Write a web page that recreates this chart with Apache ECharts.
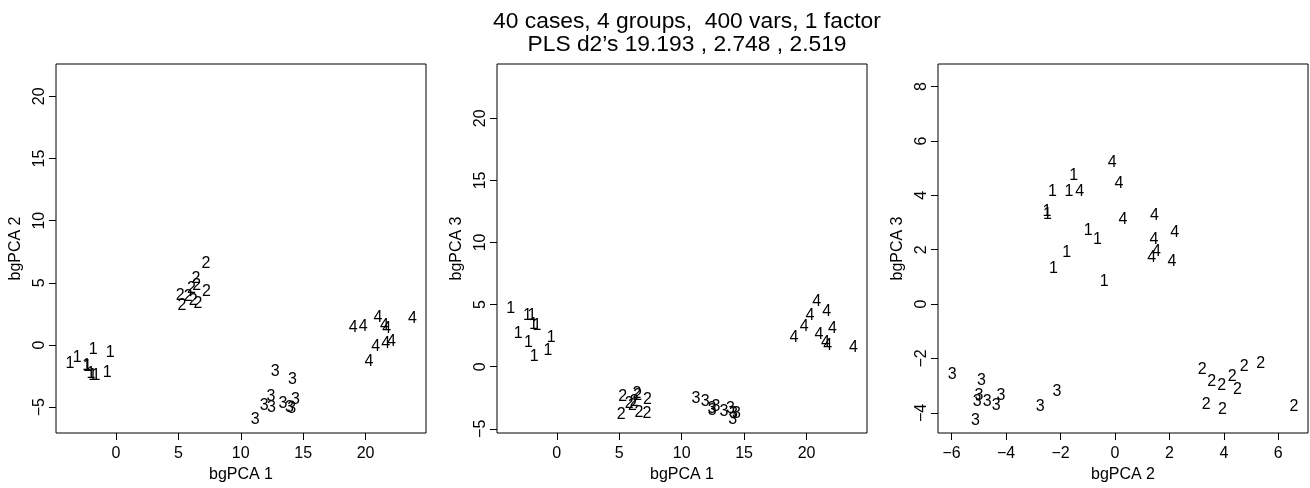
<!DOCTYPE html>
<html><head><meta charset="utf-8">
<script src="https://cdn.jsdelivr.net/npm/echarts@6/dist/echarts.min.js"></script>
<style>html,body{margin:0;padding:0;background:#fff}#c{width:1310px;height:488px}</style>
</head><body><div id="c"></div>
<script>
const titleLines = ["40 cases, 4 groups,  400 vars, 1 factor", "PLS d2\u2019s 19.193 , 2.748 , 2.519"];
const groups = [1,1,1,1,1,1,1,1,1,1, 2,2,2,2,2,2,2,2,2,2, 3,3,3,3,3,3,3,3,3,3, 4,4,4,4,4,4,4,4,4,4];
const pc1 = [-3.69,-2.35,-2.00,-1.87,-1.60,-3.10,-2.28,-1.82,-0.45,-0.70,
             7.22,7.25,6.42,6.47,5.15,5.28,6.58,6.05,5.80,6.20,
             11.15,11.88,12.75,14.15,12.42,13.38,14.38,13.90,14.08,12.45,
             20.81,21.61,20.27,19.81,19.00,22.08,21.00,21.52,21.70,23.75];
const pc2 = [-1.52,-1.69,-2.30,-2.50,-2.48,-0.98,-1.77,-0.40,-0.64,-2.26,
             6.57,4.31,5.35,4.75,3.95,3.20,3.35,4.50,3.92,3.55,
             -5.98,-4.90,-2.13,-2.75,-4.19,-4.69,-4.36,-5.00,-5.12,-5.06,
             -0.10,0.15,-1.30,1.45,1.43,0.29,2.19,1.52,1.35,2.09];
const pc3 = [4.71,4.14,4.12,3.40,3.30,2.70,1.90,0.84,2.37,1.31,
             -3.78,-2.65,-2.17,-2.30,-3.88,-2.40,-3.70,-3.15,-3.00,-2.85,
             -2.60,-2.80,-3.20,-3.77,-3.35,-3.60,-3.75,-3.35,-4.30,-3.57,
             5.20,4.42,4.12,3.26,2.38,3.10,2.62,1.94,1.71,1.55];
const ticksPC1 = [0,5,10,15,20];
const ticksPC2p1 = [-5,0,5,10,15,20];
const ticksPC3p2 = [-5,0,5,10,15,20];
const ticksPC2p3 = [-6,-4,-2,0,2,4,6];
const ticksPC3p3 = [-4,-2,0,2,4,6,8];

const panels = [
  {x: pc1, y: pc2, xName: 'bgPCA 1', yName: 'bgPCA 2', xMin: -4.8, xMax: 24.84, yMin: -7.08, yMax: 22.6, xTicks: ticksPC1, yTicks: ticksPC2p1},
  {x: pc1, y: pc3, xName: 'bgPCA 1', yName: 'bgPCA 3', xMin: -4.79, xMax: 24.84, yMin: -5.34, yMax: 24.37, xTicks: ticksPC1, yTicks: ticksPC3p2},
  {x: pc2, y: pc3, xName: 'bgPCA 2', yName: 'bgPCA 3', xMin: -6.50, xMax: 7.09, yMin: -4.74, yMax: 8.83, xTicks: ticksPC2p3, yTicks: ticksPC3p3}
];
const gridLefts = [56, 497, 938];

const FONT = '"Liberation Sans", Arial, Helvetica, sans-serif';
const fmt = v => String(v).replace('-', '\u2212');

const chart = echarts.init(document.getElementById('c'), null, {renderer: 'canvas'});
const grid = [], xAxis = [], yAxis = [], series = [];
panels.forEach((p, i) => {
  grid.push({left: gridLefts[i], top: 64, width: 370, height: 369, show: true, borderColor: '#000', borderWidth: 1, backgroundColor: 'transparent', containLabel: false});
  xAxis.push({
    type: 'value', gridIndex: i, min: p.xMin, max: p.xMax, position: 'bottom',
    name: p.xName, nameLocation: 'middle', nameGap: 33,
    nameTextStyle: {color: '#000', fontSize: 16, fontFamily: FONT},
    axisLine: {show: false, onZero: false}, splitLine: {show: false},
    axisTick: {show: true, length: 7, inside: false, lineStyle: {color: '#000', width: 1}, customValues: p.xTicks},
    axisLabel: {show: true, color: '#000', fontSize: 16, fontFamily: FONT, margin: 13, customValues: p.xTicks, formatter: fmt}
  });
  yAxis.push({
    type: 'value', gridIndex: i, min: p.yMin, max: p.yMax, position: 'left',
    name: p.yName, nameLocation: 'middle', nameGap: 32,
    nameTextStyle: {color: '#000', fontSize: 16, fontFamily: FONT},
    axisLine: {show: false, onZero: false}, splitLine: {show: false},
    axisTick: {show: true, length: 7, inside: false, lineStyle: {color: '#000', width: 1}, customValues: p.yTicks},
    axisLabel: {show: true, color: '#000', fontSize: 16, fontFamily: FONT, margin: 8, rotate: 90, customValues: p.yTicks, formatter: fmt}
  });
  series.push({
    type: 'scatter', xAxisIndex: i, yAxisIndex: i,
    symbol: 'circle', symbolSize: 1, itemStyle: {color: 'rgba(0,0,0,0)', opacity: 1},
    silent: true, animation: false,
    data: p.x.map((v, k) => [v, p.y[k], groups[k]]),
    label: {show: true, position: 'inside', formatter: d => String(d.value[2]), color: '#000', opacity: 1, textBorderWidth: 0, textBorderColor: 'transparent', fontSize: 16, fontFamily: FONT}
  });
});

chart.setOption({
  animation: false,
  backgroundColor: '#fff',
  title: {
    text: titleLines.join('\n'), left: 682, top: 5, textAlign: 'center',
    textStyle: {color: '#000', fontSize: 22.8, fontWeight: 'normal', fontFamily: FONT, lineHeight: 23}
  },
  grid: grid, xAxis: xAxis, yAxis: yAxis, series: series
});
</script></body></html>
